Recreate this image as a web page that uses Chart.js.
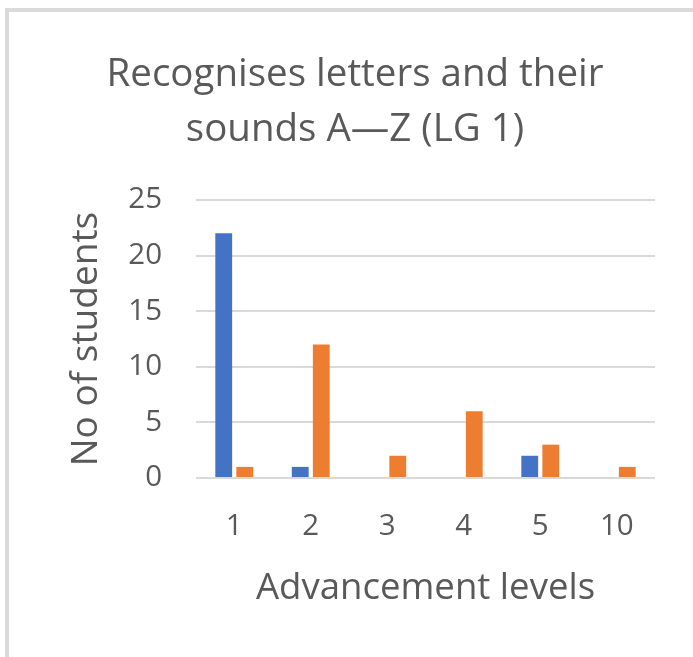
<!DOCTYPE html>
<html>
<head>
<meta charset="utf-8">
<script src="https://cdn.jsdelivr.net/npm/chart.js@4"></script>
<style>
  html, body { margin: 0; padding: 0; background: #ffffff; }
  #wrap { position: relative; width: 693px; height: 657px; overflow: hidden; }
  #frame { position: absolute; left: 5px; top: 8px; right: -10px; bottom: -10px;
           border-top: 4px solid #dadada; border-left: 4px solid #dadada; }
  #c { position: absolute; left: 0; top: 0; }
</style>
</head>
<body>
<div id="wrap">
  <div id="frame"></div>
  <canvas id="c" width="693" height="657"></canvas>
</div>
<script>
const titleLines = ['Recognises letters and their', 'sounds A\u2014Z (LG 1)'];
const xTitle = 'Advancement levels';
const yTitle = 'No of students';
const categories = ['1', '2', '3', '4', '5', '10'];
const seriesBlue = [22, 1, 0, 0, 2, 0];
const seriesOrange = [1, 12, 2, 6, 3, 1];
const yMin = 0, yMax = 25, yStep = 5;

const textColor = '#595959';
const fontFamily = '"Open Sans", Lato, sans-serif';

new Chart(document.getElementById('c'), {
  type: 'bar',
  data: {
    labels: categories,
    datasets: [
      { label: 'Series1', data: seriesBlue, backgroundColor: '#4472C4',
        categoryPercentage: 0.55, barPercentage: 0.8 },
      { label: 'Series2', data: seriesOrange, backgroundColor: '#ED7D31',
        categoryPercentage: 0.55, barPercentage: 0.8 }
    ]
  },
  options: {
    responsive: false,
    devicePixelRatio: 1,
    animation: false,
    layout: { padding: { top: 0, left: 55, right: 38, bottom: 0 } },
    plugins: {
      legend: { display: false },
      tooltip: { enabled: false },
      title: {
        display: true,
        text: titleLines,
        color: textColor,
        font: { family: fontFamily, size: 38.5, weight: 'normal', lineHeight: 55 / 38.5 },
        padding: { top: 48, bottom: 42 }
      }
    },
    scales: {
      x: {
        grid: { display: false, drawTicks: false },
        border: { display: false },
        ticks: { color: textColor, font: { family: fontFamily, size: 29.5 }, padding: 31, maxRotation: 0 },
        title: { display: true, text: xTitle, color: textColor,
                 font: { family: fontFamily, size: 36.6 }, padding: { top: 0, bottom: 46.5 } },
        afterFit: (s) => { s.height = 179; }
      },
      y: {
        min: yMin, max: yMax,
        grid: { color: '#d9d9d9', lineWidth: 2, drawTicks: false },
        border: { display: false },
        ticks: { stepSize: yStep, color: textColor, font: { family: fontFamily, size: 29.5 }, padding: 34 },
        title: { display: true, text: yTitle, color: textColor,
                 font: { family: fontFamily, size: 37 }, padding: { top: 9, bottom: 0 } },
        afterFit: (s) => { s.width = 141; }
      }
    }
  }
});
</script>
</body>
</html>
